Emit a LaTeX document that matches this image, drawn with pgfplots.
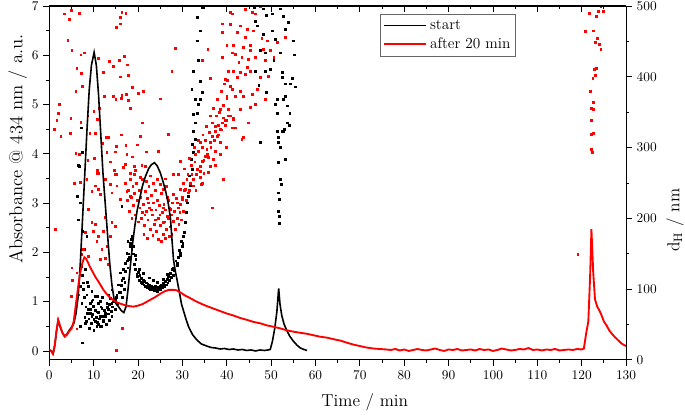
\documentclass[border=0pt]{standalone}
\usepackage{pgfplots}
\pgfplotsset{compat=1.18}
\begin{document}
\begin{tikzpicture}
\pgfplotsset{
  every axis/.append style={scale only axis, width=432.75pt, height=265.5pt,
    xmin=0, xmax=130,
    tick style={black, line width=0.6pt},
    axis line style={line width=0.8pt},
    major tick length=4.5pt, minor tick length=2.5pt,
    tick label style={font=\fontsize{10}{12}\selectfont},
    label style={font=\fontsize{13}{15}\selectfont}},
}
% ---------- right axis: hydrodynamic diameter (scatter) ----------
\begin{axis}[axis x line=none, axis y line*=right, ymin=0, ymax=500,
  ytick={0,100,...,500}, minor ytick={50,150,...,450}, ytick align=outside,
  ylabel={d\textsubscript{H} / nm},
  ylabel style={at={(axis description cs:1.085,0.395)}, anchor=center}]
\addplot[only marks, mark=square*, mark size=0.68pt, black] table {
7.22 328
7.45 293
6.55 275
6.7 274
6.3 231
6.93 222
6.55 198
7.45 182
8.44 175
7.90 156
7.16 132
8.06 128
7.67 109
6.93 104
8.80 104
9.57 97
8.44 92
10.32 90
7.31 80
9.19 80
9.93 76
11.06 80
8.80 71
10.70 68
11.83 73
9.57 61
11.44 61
12.57 66
13.32 71
10.32 54
12.19 54
11.06 50
8.06 52
6.93 47
14.09 80
14.83 85
15.21 92
14.09 99
15.58 106
16.34 113
15.96 123
16.70 128
17.09 137
17.83 142
17.47 151
18.22 161
17.70 168
18.60 156
16.34 217
7.45 24
12.96 80
13.70 87
9.57 83
11.44 83
14.09 61
11.83 47
10.70 47
9.19 66
8.0 60
8.3 55
8.6 66
8.9 58
9.2 72
9.4 52
9.7 64
10.0 57
10.3 70
10.5 60
10.8 53
11.0 67
11.3 58
11.6 75
11.9 62
12.2 56
12.4 70
12.7 61
13.0 74
13.3 65
13.6 78
13.9 69
14.2 75
14.5 82
14.8 72
15.1 88
15.4 80
15.7 95
9.0 45
10.0 42
11.5 48
12.8 50
13.5 56
8.2 75
9.8 85
10.8 90
12.0 88
13.2 92
7.8 88
7.6 100
8.5 110
7.4 120
16.0 95
16.3 105
16.6 115
16.9 100
17.2 125
17.5 140
17.7 130
17.9 150
18.1 145
18.3 165
17.0 110
16.5 88
18.6 175
19.0 160
19.2 135
19.4 128
19.5 142
19.7 121
19.9 118
20.1 124
20.2 113
20.4 119
20.6 110
20.8 115
21.0 108
21.1 113
21.3 106
21.5 111
21.7 104
21.9 109
22.0 103
22.2 107
22.4 101
22.6 105
22.8 100
23.0 104
23.1 99
23.3 103
23.5 101
23.7 98
23.9 104
24.1 100
24.3 97
24.5 102
24.7 99
24.9 104
25.1 100
25.3 106
25.5 102
25.7 108
25.9 104
26.1 111
26.3 106
26.5 114
26.7 109
26.9 118
27.1 113
27.3 122
27.5 117
27.7 128
20.3 128
21.2 122
22.5 116
23.4 112
24.4 110
25.6 114
26.6 121
19.0 150
18.8 160
19.3 148
18.5 170
27.9 130
28.2 126
28.5 140
28.8 133
29.1 145
29.3 155
29.6 148
29.8 168
30.1 165
30.4 180
27.99 120
28.76 137
29.50 151
29.89 161
30.25 175
30.63 194
30.86 208
31.02 222
31.38 231
31.76 246
31.60 260
32.14 269
31.92 283
32.51 293
32.14 305
32.89 312
32.51 323
32.89 335
32.37 347
33.27 349
33.63 361
34.02 368
34.40 378
32.5 408
33.6 423
33.3 451
34.0 465
33.3 484
34.4 498
34.0 394
32.1 382
32.9 368
46.2 498
48.3 496
48.9 487
50.2 489
52.1 496
52.8 486
53.9 477
46.4 479
46.8 472
48.3 460
50.2 465
50.9 453
53.2 467
54.9 451
47.6 437
48.7 434
50.6 423
52.1 434
55.2 431
46.4 408
48.7 408
49.8 411
52.5 406
52.5 399
54.7 398
55.5 386
54.3 390
53.2 390
47.2 388
48.9 378
51.3 368
52.8 368
53.2 373
50.9 361
53.6 359
54.2 349
51.3 349
53.6 335
54.0 331
52.5 323
53.0 326
51.7 314
51.7 307
52.1 300
51.7 279
52.1 255
52.3 248
51.7 236
51.9 227
51.7 210
51.9 203
51.9 193
47.6 307
53.2 283
52.8 323
51.3 323
};
\addplot[only marks, mark=square*, mark size=0.68pt, red] table {
3.39 489
4.90 494
6.70 490
4.15 452
5.06 437
7.09 431
7.90 434
6.19 412
7.16 405
5.96 379
7.45 387
2.03 348
1.67 338
1.13 326
2.57 316
4.83 341
4.74 320
7.09 336
8.67 345
9.12 320
10.32 320
10.02 351
10.84 340
11.29 356
11.06 426
12.12 406
13.54 422
14.45 415
15.73 423
16.93 429
17.61 417
15.96 400
17.83 402
18.74 385
12.42 372
14.45 372
14.99 368
16.19 370
16.34 374
17.31 375
17.83 367
20.09 377
21.22 380
18.22 355
24.99 369
20.99 335
12.80 314
13.32 315
16.19 318
20.47 316
11.96 306
15.06 302
17.25 303
19.86 304
5.96 292
6.77 290
12.96 293
14.83 294
17.47 290
18.74 287
21.83 294
24.60 295
8.67 282
10.16 285
13.70 280
17.09 276
19.19 273
20.86 275
21.60 274
10.84 268
14.67 268
16.70 272
11.06 264
15.21 262
18.22 264
19.35 268
16.34 491
17.25 490
15.96 484
15.96 475
15.12 470
2.26 361
4.5 481
5.64 249
6.93 251
8.44 255
10.70 264
10.32 246
11.06 241
11.44 234
9.57 238
12.57 255
13.70 248
14.83 262
15.21 246
14.09 236
15.96 227
17.47 238
17.09 250
18.22 231
8.80 213
9.57 194
10.32 191
11.06 175
9.93 182
12.19 182
12.96 161
11.83 156
10.70 168
13.70 175
14.09 194
12.57 201
14.83 189
8.06 180
7.67 156
7.16 149
8.80 146
5.06 130
6.19 123
5.19 113
4.90 90
6.55 92
1.29 185
6.19 44
16.48 45
15.06 14
11.44 142
12.57 144
13.32 135
17.5 225
17.8 240
18.0 210
18.2 255
18.4 230
18.6 200
18.8 245
19.0 218
19.2 235
19.4 205
19.6 250
19.8 225
20.0 195
20.2 240
20.4 215
20.6 230
20.8 200
21.0 255
21.2 220
21.4 190
21.6 238
21.8 210
22.0 228
22.2 198
22.4 245
22.6 215
22.8 185
23.0 232
23.2 205
23.4 222
23.6 192
23.8 240
24.0 212
24.2 182
24.4 225
24.6 200
24.8 218
25.0 190
25.2 235
25.4 208
25.6 178
25.8 220
26.0 195
26.2 212
26.4 185
26.6 230
26.8 200
27.0 215
27.2 188
27.4 205
27.6 178
27.8 222
28.0 196
28.2 210
28.4 185
28.6 228
28.8 200
29.0 215
29.2 192
29.4 208
29.6 220
29.8 198
30.0 230
30.2 210
30.4 240
19.1 262
20.5 258
21.9 252
22.7 260
23.5 250
24.3 255
25.1 248
26.3 245
21.3 178
22.1 172
23.3 176
24.5 170
25.3 168
26.1 172
27.1 175
20.9 208
22.9 212
24.9 205
23.9 198
22.3 222
21.5 205
25.7 215
26.9 225
26.1 256
26.9 319
25.7 241
28.0 234
29.5 241
30.2 250
31.0 255
32.1 262
33.3 269
34.0 274
34.4 281
35.1 288
35.5 298
36.3 307
36.7 316
37.4 323
38.1 331
38.9 335
39.3 342
40.0 338
40.8 345
41.2 328
36.3 274
34.8 264
32.5 246
31.4 236
29.9 227
28.8 222
27.2 213
26.5 203
25.7 194
39.3 255
36.7 215
43.4 312
34.0 307
29.5 281
29.1 262
28.0 262
32.9 290
37.8 316
38.5 307
37.4 295
35.9 286
34.4 250
31.8 250
30.6 241
34.0 267
37.0 283
38.5 326
39.7 331
40.4 354
41.5 340
41.9 328
30.8 225
31.2 262
31.6 240
32.0 275
32.4 255
32.8 280
33.2 262
33.6 295
34.0 258
34.4 300
34.8 282
35.2 310
35.6 290
36.0 322
36.4 300
36.8 335
37.2 310
37.6 345
38.0 318
38.4 350
38.8 325
39.2 360
39.6 338
40.0 370
40.4 345
30.5 270
31.5 285
32.6 300
33.5 310
34.6 318
35.4 330
36.2 345
37.0 355
37.9 368
38.7 380
39.5 390
40.2 395
33.0 240
34.2 248
35.8 265
37.4 275
38.6 290
39.8 300
44.2 495
45.7 491
47.6 500
46.4 489
41.2 489
43.0 472
44.6 467
46.0 465
42.3 463
44.2 456
47.9 454
49.1 451
51.3 449
53.2 456
41.5 444
43.8 442
45.3 437
48.3 439
49.8 437
41.9 432
43.4 427
44.9 425
46.4 427
48.7 423
50.6 427
42.7 420
44.6 413
41.5 408
43.0 406
44.2 404
45.3 408
47.6 399
49.4 401
42.3 399
41.2 382
43.0 380
43.8 373
45.7 375
46.8 382
41.9 373
48.7 368
46.4 361
43.0 354
41.5 342
45.3 357
41.9 328
43.7 314
44.9 335
38.9 475
40.8 491
35.7 439
34.4 423
28.4 440
27.6 408
36.3 398
38.9 463
40.8 474
40.0 444
41.2 434
38.9 427
40.4 408
39.7 397
40.8 387
40.0 373
38.5 354
37.4 330
45.3 444
120.8 464
121.7 490
122.6 465
123.3 486
123.8 493
124.3 499
124.9 492
123.0 449
123.5 454
123.9 446
124.3 439
122.9 411
123.3 412
123.0 402
122.5 398
121.9 380
122.6 364
122.2 356
122.7 354
122.1 338
122.2 319
122.6 320
122.1 297
122.3 293
119.1 149
};
\end{axis}
% ---------- top axis (ticks inward) ----------
\begin{axis}[axis x line*=top, axis y line=none, ymin=0, ymax=1,
  xtick={0,10,...,130}, minor xtick={5,15,...,125}, xtick align=inside,
  xticklabels={}]
\end{axis}
% ---------- main axis: absorbance ----------
\begin{axis}[axis x line*=bottom, axis y line*=left, tick align=outside,
  ymin=-0.18, ymax=7,
  ytick={0,1,...,7}, minor ytick={0.5,1.5,...,6.5},
  xtick={0,10,...,130}, minor xtick={5,15,...,125},
  xlabel={Time / min}, ylabel={Absorbance @ 434 nm / a.u.},
  xlabel style={at={(axis description cs:0.547,-0.12)}, anchor=center},
  ylabel style={at={(axis description cs:-0.055,0.596)}, anchor=center,
    font=\fontsize{14}{16}\selectfont},
  legend style={at={(axis description cs:0.573,0.977)}, anchor=north west,
    draw=black!60, line width=0.6pt, fill=white,
    font=\fontsize{11.5}{13}\selectfont, row sep=1pt,
    inner xsep=2pt, inner ysep=2pt},
  legend cell align=left,
  legend image code/.code={\draw[#1] (0pt,0pt) -- (32pt,0pt);}]
\coordinate (LL) at (rel axis cs:0,0);
\coordinate (UR) at (rel axis cs:1,1);
\addplot[black, line width=1.2pt] coordinates {
(0,0.02) (0.5,0.0) (0.9,-0.05) (1.3,0.15) (1.7,0.45) (2.0,0.62) (2.4,0.5)
(2.9,0.38) (3.4,0.30) (3.9,0.33) (4.5,0.42) (5.0,0.48) (5.5,0.55) (6.0,0.75)
(6.5,1.1) (7.0,1.8) (7.5,2.7) (8.0,3.6) (8.5,4.5) (9.0,5.3) (9.5,5.8)
(10.1,6.06) (10.6,5.8) (11.1,5.2) (11.6,4.4) (12.1,3.6) (12.6,3.0) (13.1,2.4)
(13.6,1.8) (14.1,1.35) (14.6,1.05) (15.1,0.95) (15.6,0.9) (16.2,0.82)
(16.8,0.78) (17.3,0.9) (17.8,1.3) (18.3,1.75) (18.8,2.2) (19.3,2.55)
(19.8,2.85) (20.4,3.1) (21.0,3.35) (21.7,3.55) (22.4,3.7) (23.0,3.78)
(23.7,3.82) (24.3,3.76) (25.0,3.62) (25.6,3.45) (26.2,3.25) (26.8,3.0)
(27.3,2.7) (27.7,2.2) (28.0,1.85) (28.4,1.62) (28.8,1.44) (29.3,1.2)
(29.8,0.95) (30.2,0.83) (30.8,0.65) (31.4,0.49) (32.3,0.33) (33.3,0.22)
(34.3,0.14) (35.5,0.10) (36.5,0.07) (37.5,0.06) (38.5,0.04) (39.5,0.05)
(40.5,0.03) (41.5,0.04) (42.5,0.02) (43.5,0.03) (44.5,0.01) (45.5,0.02)
(46.5,0.0) (47.5,0.02) (48.5,0.01) (49.3,0.02) (49.8,0.03) (50.3,0.2)
(50.8,0.45) (51.3,0.8) (51.7,1.27) (52.0,0.95) (52.4,0.72) (52.9,0.55)
(53.5,0.42) (54.2,0.3) (55.0,0.2) (55.8,0.12) (56.6,0.06) (57.4,0.03)
(58.1,0.01)
};
\addlegendentry{start}
\addplot[red, line width=1.4pt] coordinates {
(0,0.02) (0.4,0.0) (0.8,-0.06) (1.2,0.1) (1.6,0.4) (2.0,0.63) (2.4,0.52)
(2.9,0.38) (3.5,0.29) (4.0,0.33) (4.5,0.4) (5.05,0.46) (5.5,0.6) (6.0,0.95)
(6.5,1.3) (7.0,1.6) (7.5,1.8) (7.9,1.9) (8.3,1.87) (8.7,1.8) (9.2,1.7)
(9.8,1.6) (10.4,1.5) (11.0,1.42) (11.6,1.33) (12.2,1.24) (12.8,1.17)
(13.4,1.11) (14.0,1.06) (14.6,1.02) (15.2,0.99) (16.0,0.96) (17.0,0.93)
(18.0,0.91) (19.0,0.9) (20.0,0.92) (21.0,0.95) (22.0,1.0) (23.0,1.05)
(24.0,1.1) (25.0,1.16) (26.0,1.21) (27.0,1.24) (28.0,1.24) (28.7,1.23)
(29.5,1.19) (30.5,1.13) (31.8,1.07) (33.0,1.01) (34.2,0.96) (35.5,0.91)
(37.0,0.86) (38.5,0.81) (40.0,0.76) (41.5,0.72) (43.0,0.67) (44.6,0.63)
(46.0,0.59) (47.6,0.56) (49.0,0.52) (50.6,0.49) (52.0,0.46) (53.5,0.42)
(55.1,0.39) (56.5,0.37) (58.0,0.35) (59.5,0.32) (61.0,0.29) (62.6,0.27)
(64.0,0.24) (65.6,0.21) (67.0,0.17) (68.5,0.13) (70.0,0.10) (71.5,0.07)
(73.0,0.05) (74.5,0.04) (76,0.03) (77,0.02) (78,0.04) (79,0.01) (80,0.03)
(81,0.00) (82,0.02) (83,0.04) (84,0.02) (85,0.01) (86,0.03) (87,0.05)
(88,0.02) (89,0.00) (90,0.03) (91,0.02) (92,0.04) (93,0.01) (94,0.02)
(95,0.03) (96,0.01) (97,0.04) (98,0.02) (99,0.03) (100,0.00) (101,0.02)
(102,0.05) (103,0.03) (104,0.01) (105,0.02) (106,0.04) (107,0.03) (108,0.06)
(109,0.02) (110,0.03) (111,0.01) (112,0.03) (113,0.02) (114,0.04) (115,0.01)
(116,0.02) (117,0.03) (118,0.02) (119,0.04) (120,0.03) (120.5,0.05)
(121.0,0.35) (121.5,0.6) (121.9,1.5) (122.2,2.47) (122.6,1.6) (123.0,1.05)
(123.5,0.9) (124.0,0.82) (124.5,0.72) (125.0,0.6) (125.6,0.52) (126.2,0.42)
(126.8,0.35) (127.5,0.28) (128.2,0.22) (129.0,0.15) (129.6,0.12) (130,0.1)
};
\addlegendentry{after 20 min}
\end{axis}
\pgfresetboundingbox
\path ([shift={(-37pt,-42pt)}]LL) rectangle ([shift={(44.25pt,4.5pt)}]UR);
\end{tikzpicture}
\end{document}
